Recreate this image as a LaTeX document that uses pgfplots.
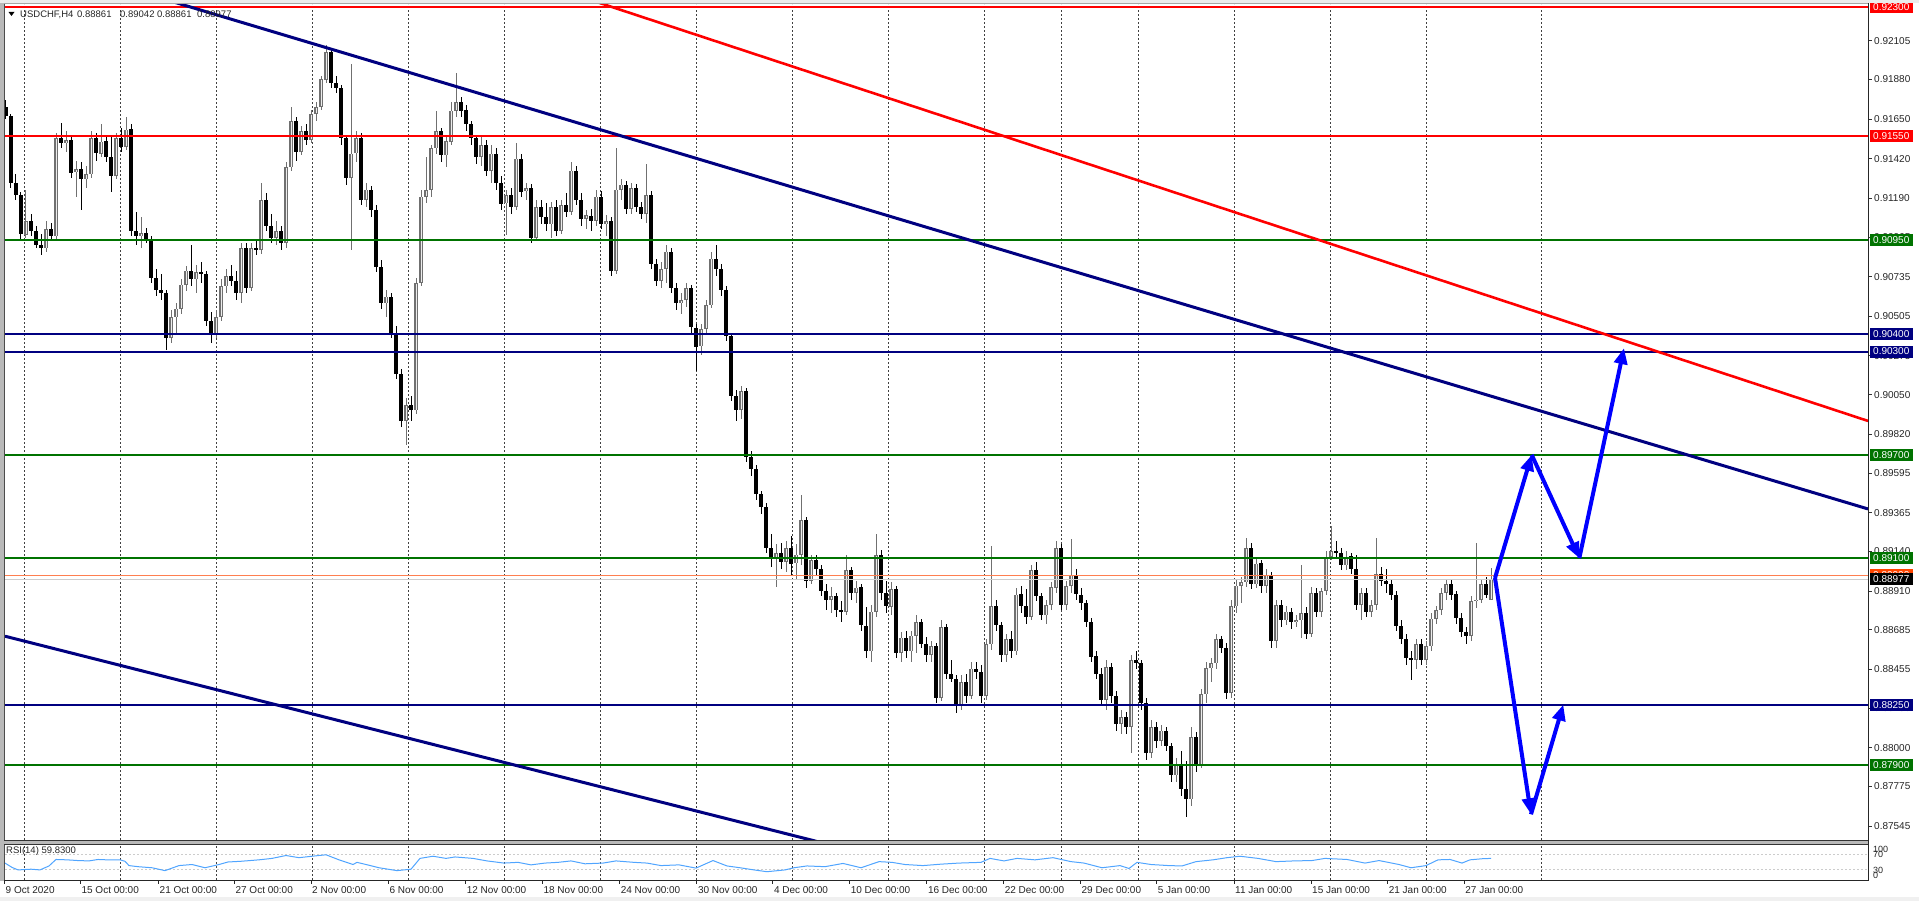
\documentclass[border=0pt]{standalone}
\usepackage{fontspec}
\setmainfont{Liberation Sans}
\newfontfamily\dejavu{DejaVu Sans}
\usepackage{pgfplots}
\pgfplotsset{compat=1.18}
\usepackage{pgfplotstable}
\usetikzlibrary{arrows.meta}

\definecolor{mtred}{RGB}{255,0,0}
\definecolor{mtgreen}{RGB}{0,115,0}
\definecolor{mtnavy}{RGB}{0,0,128}
\definecolor{mtblue}{RGB}{0,0,255}
\definecolor{candlegray}{RGB}{112,112,112}
\definecolor{rsiblue}{RGB}{80,165,255}
\definecolor{coralline}{RGB}{255,127,80}
\definecolor{orangebox}{RGB}{255,69,0}
\definecolor{bidgray}{RGB}{205,205,205}

\pgfplotstableread{
x o h l c
6 0.9172 0.9176 0.9165 0.9167
11 0.9167 0.9168 0.9125 0.9128
16 0.9128 0.9133 0.9118 0.9121
21 0.9121 0.9123 0.9095 0.9098
26 0.9098 0.9124 0.9096 0.9106
31 0.9106 0.9110 0.9097 0.9100
36 0.9100 0.9103 0.9090 0.9092
41 0.9092 0.9098 0.9086 0.9090
46 0.9090 0.9106 0.9088 0.9101
51 0.9101 0.9105 0.9094 0.9097
56 0.9097 0.9157 0.9095 0.9154
61 0.9154 0.9163 0.9148 0.9151
66 0.9151 0.9158 0.9146 0.9153
71 0.9153 0.9155 0.9131 0.9134
76 0.9134 0.9141 0.9120 0.9136
81 0.9136 0.9140 0.9112 0.9130
86 0.9130 0.9138 0.9125 0.9133
91 0.9133 0.9158 0.9131 0.9154
96 0.9154 0.9157 0.9141 0.9145
101 0.9145 0.9162 0.9143 0.9152
106 0.9152 0.9155 0.9140 0.9143
111 0.9143 0.9156 0.9123 0.9132
116 0.9132 0.9157 0.9130 0.9154
121 0.9154 0.9160 0.9146 0.9149
126 0.9149 0.9166 0.9147 0.9159
131 0.9159 0.9162 0.9097 0.9100
136 0.9100 0.9111 0.9092 0.9097
141 0.9097 0.9108 0.9090 0.9099
146 0.9099 0.9102 0.9093 0.9095
151 0.9095 0.9097 0.9070 0.9073
156 0.9073 0.9078 0.9062 0.9066
161 0.9066 0.9075 0.9060 0.9064
166 0.9064 0.9066 0.9031 0.9038
171 0.9038 0.9054 0.9035 0.9050
176 0.9050 0.9058 0.9040 0.9055
181 0.9055 0.9072 0.9052 0.9069
186 0.9069 0.9080 0.9065 0.9077
191 0.9077 0.9092 0.9068 0.9072
196 0.9072 0.9080 0.9064 0.9076
201 0.9076 0.9082 0.9070 0.9075
206 0.9075 0.9077 0.9045 0.9048
211 0.9048 0.9053 0.9035 0.9040
216 0.9040 0.9054 0.9038 0.9050
221 0.9050 0.9072 0.9048 0.9068
226 0.9068 0.9078 0.9064 0.9074
231 0.9074 0.9080 0.9068 0.9071
236 0.9071 0.9077 0.9060 0.9064
241 0.9064 0.9093 0.9058 0.9090
246 0.9090 0.9093 0.9064 0.9067
251 0.9067 0.9093 0.9065 0.9090
256 0.9090 0.9094 0.9086 0.9089
261 0.9089 0.9128 0.9087 0.9118
266 0.9118 0.9122 0.9100 0.9103
271 0.9103 0.9110 0.9093 0.9096
276 0.9096 0.9106 0.9092 0.9100
281 0.9100 0.9103 0.9089 0.9093
286 0.9093 0.9140 0.9090 0.9137
291 0.9137 0.9172 0.9135 0.9164
296 0.9164 0.9166 0.9141 0.9146
301 0.9146 0.9161 0.9144 0.9158
306 0.9158 0.9162 0.9150 0.9153
311 0.9153 0.9170 0.9151 0.9168
316 0.9168 0.9175 0.9164 0.9172
321 0.9172 0.9190 0.9170 0.9188
326 0.9188 0.9208 0.9186 0.9204
331 0.9204 0.9206 0.9183 0.9186
336 0.9186 0.9190 0.9180 0.9183
341 0.9183 0.9185 0.9150 0.9154
346 0.9154 0.9156 0.9127 0.9131
351 0.9131 0.9197 0.9089 0.9145
356 0.9145 0.9158 0.9140 0.9154
361 0.9154 0.9157 0.9115 0.9118
366 0.9118 0.9128 0.9114 0.9124
371 0.9124 0.9126 0.9108 0.9112
376 0.9112 0.9115 0.9076 0.9079
381 0.9079 0.9083 0.9055 0.9058
386 0.9058 0.9066 0.9050 0.9062
391 0.9062 0.9064 0.9038 0.9041
396 0.9041 0.9045 0.9014 0.9017
401 0.9017 0.9020 0.8986 0.8990
406 0.8990 0.9003 0.8976 0.8999
411 0.8999 0.9004 0.8990 0.8996
416 0.8996 0.9073 0.8994 0.9070
421 0.9070 0.9124 0.9068 0.9120
426 0.9120 0.9143 0.9116 0.9124
431 0.9124 0.9150 0.9120 0.9148
436 0.9148 0.9170 0.9145 0.9158
441 0.9158 0.9160 0.9140 0.9144
446 0.9144 0.9156 0.9137 0.9152
451 0.9152 0.9175 0.9150 0.9170
456 0.9170 0.9192 0.9166 0.9175
461 0.9175 0.9178 0.9166 0.9170
466 0.9170 0.9173 0.9158 0.9162
471 0.9162 0.9164 0.9150 0.9154
476 0.9154 0.9156 0.9139 0.9143
481 0.9143 0.9155 0.9138 0.9150
486 0.9150 0.9153 0.9132 0.9135
491 0.9135 0.9150 0.9128 0.9145
496 0.9145 0.9148 0.9124 0.9128
501 0.9128 0.9132 0.9112 0.9116
506 0.9116 0.9124 0.9098 0.9121
511 0.9121 0.9125 0.9110 0.9114
516 0.9114 0.9151 0.9112 0.9142
521 0.9142 0.9145 0.9120 0.9123
526 0.9123 0.9128 0.9118 0.9125
531 0.9125 0.9127 0.9093 0.9096
536 0.9096 0.9118 0.9094 0.9114
541 0.9114 0.9118 0.9104 0.9108
546 0.9108 0.9116 0.9100 0.9104
551 0.9104 0.9117 0.9096 0.9114
556 0.9114 0.9118 0.9097 0.9100
561 0.9100 0.9118 0.9098 0.9115
566 0.9115 0.9122 0.9108 0.9111
571 0.9111 0.9140 0.9109 0.9135
576 0.9135 0.9138 0.9115 0.9118
581 0.9118 0.9122 0.9103 0.9107
586 0.9107 0.9112 0.9101 0.9109
591 0.9109 0.9113 0.9100 0.9106
596 0.9106 0.9124 0.9103 0.9120
601 0.9120 0.9123 0.9101 0.9104
606 0.9104 0.9109 0.9097 0.9106
611 0.9106 0.9108 0.9074 0.9077
616 0.9077 0.9148 0.9075 0.9124
621 0.9124 0.9130 0.9118 0.9127
626 0.9127 0.9129 0.9110 0.9113
631 0.9113 0.9128 0.9110 0.9125
636 0.9125 0.9127 0.9111 0.9114
641 0.9114 0.9117 0.9107 0.9110
646 0.9110 0.9139 0.9105 0.9121
651 0.9121 0.9123 0.9078 0.9081
656 0.9081 0.9084 0.9068 0.9071
661 0.9071 0.9082 0.9067 0.9078
666 0.9078 0.9092 0.9070 0.9088
671 0.9088 0.9090 0.9064 0.9067
676 0.9067 0.9070 0.9054 0.9058
681 0.9058 0.9064 0.9052 0.9060
686 0.9060 0.9070 0.9056 0.9067
691 0.9067 0.9069 0.9041 0.9044
696 0.9044 0.9046 0.9019 0.9033
701 0.9033 0.9046 0.9028 0.9043
706 0.9043 0.9060 0.9040 0.9057
711 0.9057 0.9088 0.9055 0.9084
716 0.9084 0.9092 0.9074 0.9078
721 0.9078 0.9081 0.9062 0.9066
726 0.9066 0.9068 0.9036 0.9039
731 0.9039 0.9041 0.9001 0.9004
736 0.9004 0.9008 0.8990 0.8996
741 0.8996 0.9010 0.8991 0.9007
746 0.9007 0.9009 0.8966 0.8969
751 0.8969 0.8972 0.8958 0.8962
756 0.8962 0.8964 0.8944 0.8947
761 0.8947 0.8949 0.8936 0.8940
766 0.8940 0.8942 0.8913 0.8916
771 0.8916 0.8924 0.8905 0.8910
776 0.8910 0.8918 0.8893 0.8913
781 0.8913 0.8919 0.8904 0.8908
786 0.8908 0.8920 0.8902 0.8916
791 0.8916 0.8923 0.8900 0.8907
796 0.8907 0.8918 0.8898 0.8912
801 0.8912 0.8947 0.8906 0.8932
806 0.8932 0.8934 0.8893 0.8897
811 0.8897 0.8912 0.8895 0.8909
816 0.8909 0.8912 0.8900 0.8904
821 0.8904 0.8906 0.8888 0.8891
826 0.8891 0.8895 0.8880 0.8886
831 0.8886 0.8893 0.8878 0.8888
836 0.8888 0.8890 0.8876 0.8880
841 0.8880 0.8885 0.8873 0.8879
846 0.8879 0.8912 0.8877 0.8903
851 0.8903 0.8905 0.8886 0.8890
856 0.8890 0.8897 0.8884 0.8893
861 0.8893 0.8895 0.8868 0.8871
866 0.8871 0.8882 0.8852 0.8856
871 0.8856 0.8883 0.8850 0.8879
876 0.8879 0.8924 0.8876 0.8912
881 0.8912 0.8915 0.8886 0.8890
886 0.8890 0.8897 0.8878 0.8882
891 0.8882 0.8896 0.8877 0.8892
896 0.8892 0.8894 0.8852 0.8855
901 0.8855 0.8867 0.8850 0.8864
906 0.8864 0.8868 0.8852 0.8856
911 0.8856 0.8868 0.8850 0.8865
916 0.8865 0.8877 0.8855 0.8873
921 0.8873 0.8875 0.8858 0.8860
926 0.8860 0.8864 0.8850 0.8854
931 0.8854 0.8862 0.8850 0.8859
936 0.8859 0.8861 0.8826 0.8829
941 0.8829 0.8874 0.8827 0.8870
946 0.8870 0.8872 0.8840 0.8843
951 0.8843 0.8851 0.8838 0.8840
956 0.8840 0.8842 0.8820 0.8824
961 0.8824 0.8842 0.8822 0.8838
966 0.8838 0.8843 0.8826 0.8830
971 0.8830 0.8850 0.8828 0.8846
976 0.8846 0.8850 0.8840 0.8844
981 0.8844 0.8848 0.8826 0.8830
986 0.8830 0.8863 0.8828 0.8860
991 0.8860 0.8917 0.8857 0.8882
996 0.8882 0.8886 0.8868 0.8871
1001 0.8871 0.8873 0.8850 0.8854
1006 0.8854 0.8866 0.8850 0.8863
1011 0.8863 0.8868 0.8852 0.8856
1016 0.8856 0.8893 0.8854 0.8889
1021 0.8889 0.8894 0.8878 0.8882
1026 0.8882 0.8892 0.8872 0.8876
1031 0.8876 0.8906 0.8874 0.8903
1036 0.8903 0.8908 0.8885 0.8888
1041 0.8888 0.8890 0.8874 0.8877
1046 0.8877 0.8886 0.8872 0.8883
1051 0.8883 0.8896 0.8880 0.8893
1056 0.8893 0.8920 0.8890 0.8916
1061 0.8916 0.8918 0.8880 0.8883
1066 0.8883 0.8897 0.8880 0.8894
1071 0.8894 0.8921 0.8890 0.8900
1076 0.8900 0.8904 0.8886 0.8889
1081 0.8889 0.8893 0.8880 0.8884
1086 0.8884 0.8886 0.8870 0.8873
1091 0.8873 0.8875 0.8850 0.8853
1096 0.8853 0.8856 0.8840 0.8843
1101 0.8843 0.8846 0.8824 0.8828
1106 0.8828 0.8851 0.8822 0.8847
1111 0.8847 0.8849 0.8826 0.8830
1116 0.8830 0.8833 0.8810 0.8814
1121 0.8814 0.8822 0.8808 0.8818
1126 0.8818 0.8821 0.8808 0.8812
1131 0.8812 0.8854 0.8797 0.8851
1136 0.8851 0.8856 0.8846 0.8849
1141 0.8849 0.8851 0.8822 0.8826
1146 0.8826 0.8829 0.8793 0.8797
1151 0.8797 0.8816 0.8794 0.8812
1156 0.8812 0.8815 0.8800 0.8804
1161 0.8804 0.8813 0.8801 0.8810
1166 0.8810 0.8812 0.8798 0.8801
1171 0.8801 0.8803 0.8780 0.8784
1176 0.8784 0.8794 0.8780 0.8790
1181 0.8790 0.8798 0.8772 0.8776
1186 0.8776 0.8792 0.8760 0.8770
1191 0.8770 0.8812 0.8766 0.8806
1196 0.8806 0.8809 0.8786 0.8790
1201 0.8790 0.8834 0.8788 0.8831
1206 0.8831 0.8850 0.8826 0.8846
1211 0.8846 0.8852 0.8838 0.8849
1216 0.8849 0.8866 0.8846 0.8863
1221 0.8863 0.8865 0.8855 0.8858
1226 0.8858 0.8861 0.8828 0.8832
1231 0.8832 0.8886 0.8829 0.8882
1236 0.8882 0.8898 0.8878 0.8894
1241 0.8894 0.8899 0.8884 0.8896
1246 0.8896 0.8922 0.8893 0.8916
1251 0.8916 0.8919 0.8892 0.8895
1256 0.8895 0.8910 0.8893 0.8907
1261 0.8907 0.8909 0.8890 0.8894
1266 0.8894 0.8904 0.8890 0.8900
1271 0.8900 0.8902 0.8858 0.8862
1276 0.8862 0.8886 0.8858 0.8883
1281 0.8883 0.8886 0.8870 0.8874
1286 0.8874 0.8882 0.8871 0.8879
1291 0.8879 0.8881 0.8869 0.8873
1296 0.8873 0.8877 0.8870 0.8874
1301 0.8874 0.8906 0.8864 0.8878
1306 0.8878 0.8882 0.8863 0.8866
1311 0.8866 0.8893 0.8864 0.8890
1316 0.8890 0.8893 0.8876 0.8879
1321 0.8879 0.8893 0.8876 0.8891
1326 0.8891 0.8914 0.8889 0.8911
1331 0.8911 0.8929 0.8909 0.8914
1336 0.8914 0.8920 0.8911 0.8913
1341 0.8913 0.8916 0.8903 0.8906
1346 0.8906 0.8914 0.8903 0.8911
1351 0.8911 0.8913 0.8901 0.8904
1356 0.8904 0.8912 0.8880 0.8883
1361 0.8883 0.8893 0.8874 0.8890
1366 0.8890 0.8893 0.8876 0.8879
1371 0.8879 0.8886 0.8876 0.8883
1376 0.8883 0.8922 0.8880 0.8901
1381 0.8901 0.8905 0.8894 0.8897
1386 0.8897 0.8904 0.8890 0.8895
1391 0.8895 0.8898 0.8886 0.8889
1396 0.8889 0.8891 0.8868 0.8871
1401 0.8871 0.8874 0.8860 0.8863
1406 0.8863 0.8866 0.8848 0.8852
1411 0.8852 0.8856 0.8839 0.8851
1416 0.8851 0.8863 0.8846 0.8860
1421 0.8860 0.8863 0.8848 0.8851
1426 0.8851 0.8862 0.8848 0.8859
1431 0.8859 0.8878 0.8856 0.8875
1436 0.8875 0.8882 0.8872 0.8880
1441 0.8880 0.8893 0.8877 0.8890
1446 0.8890 0.8898 0.8886 0.8895
1451 0.8895 0.8898 0.8886 0.8889
1456 0.8889 0.8891 0.8872 0.8875
1461 0.8875 0.8878 0.8864 0.8867
1466 0.8867 0.8870 0.8860 0.8865
1471 0.8865 0.8888 0.8862 0.8885
1476 0.8885 0.8919 0.8881 0.8886
1481 0.8886 0.8898 0.8884 0.8895
1486 0.8895 0.8899 0.8887 0.8889
1491 0.88861 0.89042 0.88861 0.88977
}\candles

\tikzset{
  plab/.style={anchor=west, inner sep=0pt, font=\fontsize{10}{12}\selectfont, text=black!85},
  pbox/.style={anchor=west, fill=#1, text=white, inner xsep=3.5pt, inner ysep=0pt, minimum height=12pt, font=\fontsize{10}{12}\selectfont},
  dlab/.style={anchor=west, inner sep=0pt, font=\fontsize{10}{12}\selectfont, text=black!85},
}

\begin{document}
\begin{tikzpicture}[x=1pt,y=1pt]
\fill[white] (0,0) rectangle (1919,901);
\path[use as bounding box] (0,0) rectangle (1919,901);

% vertical dashed grid
\foreach \X in {24.6,120.5,216.5,312.5,408.5,504.5,600.4,696.4,792.4,888.4,984.4,1061.6,1138.4,1234.4,1330.4,1426.3,1541.6}
  \draw[black!75, line width=0.8pt, dash pattern=on 2pt off 2pt] (\X,21) -- (\X,897);

% ---------- RSI panel ----------
\begin{axis}[at={(5pt,21pt)}, anchor=south west, scale only axis,
  width=1863pt, height=36pt, xmin=5, xmax=1868, ymin=0, ymax=100,
  hide axis, clip mode=individual]
\addplot[gray!40, line width=0.8pt, dash pattern=on 2pt off 2pt, forget plot] coordinates {(5,70) (1868,70)};
\addplot[gray!40, line width=0.8pt, dash pattern=on 2pt off 2pt, forget plot] coordinates {(5,30) (1868,30)};
\addplot[rsiblue, line width=1pt, forget plot] coordinates {
(5,47) (12,35) (18,28) (31,30) (40,28) (49,39) (56,57) (67,56) (78,54) (89,53) (98,57) (107,56) (120,56) (125,52) (129,40) (138,37) (152,34) (165,26) (179,40) (192,43) (205,34) (219,43) (228,50) (241,52) (259,56) (272,60) (286,68) (299,62) (312,66) (326,70) (339,56) (353,43) (357,49) (366,43) (379,34) (397,26) (411,30) (420,60) (433,66) (446,60) (455,64) (473,60) (487,53) (504,47) (518,49) (531,42) (545,47) (558,49) (571,53) (585,45) (603,47) (616,53) (634,49) (647,47) (661,40) (679,42) (696,33) (713,54) (727,39) (740,34) (754,28) (767,23) (785,28) (794,34) (807,39) (825,37) (843,46) (861,34) (879,51) (892,49) (905,43) (923,40) (941,44) (959,47) (981,49) (990,60) (1004,53) (1017,60) (1035,56) (1053,62) (1071,51) (1084,47) (1102,34) (1120,40) (1129,32) (1137,49) (1151,43) (1169,40) (1182,39) (1196,51) (1213,56) (1227,62) (1240,66) (1258,60) (1276,51) (1294,53) (1312,54) (1325,60) (1347,57) (1365,47) (1379,54) (1399,43) (1411,34) (1426,40) (1438,56) (1450,57) (1462,47) (1470,56) (1482,59) (1491,60)};
\end{axis}

% ---------- main price panel ----------
\begin{axis}[at={(5pt,59pt)}, anchor=south west, scale only axis,
  width=1863pt, height=838pt, xmin=5, xmax=1868, ymin=0.874522, ymax=0.923181,
  hide axis, clip mode=individual]

% bull wicks
\addplot[draw=none, mark=none, forget plot,
  error bars/.cd, y dir=both, y explicit, error mark=none,
  error bar style={draw=candlegray, line width=1pt}]
  table[x=x, y expr={\thisrow{c}>=\thisrow{o} ? (\thisrow{h}+\thisrow{l})/2 : 0.85},
        y error expr={(\thisrow{h}-\thisrow{l})/2}] {\candles};
% bear wicks
\addplot[draw=none, mark=none, forget plot,
  error bars/.cd, y dir=both, y explicit, error mark=none,
  error bar style={draw=black, line width=1pt}]
  table[x=x, y expr={\thisrow{c}<\thisrow{o} ? (\thisrow{h}+\thisrow{l})/2 : 0.85},
        y error expr={(\thisrow{h}-\thisrow{l})/2}] {\candles};
% bull bodies
\addplot[draw=none, mark=none, forget plot,
  error bars/.cd, y dir=both, y explicit, error mark=none,
  error bar style={draw=candlegray, line width=3.2pt}]
  table[x=x, y expr={\thisrow{c}>=\thisrow{o} ? (\thisrow{o}+\thisrow{c})/2 : 0.85},
        y error expr={abs(\thisrow{c}-\thisrow{o})/2}] {\candles};
\addplot[draw=none, mark=none, forget plot,
  error bars/.cd, y dir=both, y explicit, error mark=none,
  error bar style={draw=white!85!gray, line width=0.7pt}]
  table[x=x, y expr={\thisrow{c}>=\thisrow{o} ? (\thisrow{o}+\thisrow{c})/2 : 0.85},
        y error expr={max(abs(\thisrow{c}-\thisrow{o})/2-0.00004,0)}] {\candles};
% bear bodies
\addplot[draw=none, mark=none, forget plot,
  error bars/.cd, y dir=both, y explicit, error mark=none,
  error bar style={draw=black, line width=3.2pt}]
  table[x=x, y expr={\thisrow{c}<\thisrow{o} ? (\thisrow{o}+\thisrow{c})/2 : 0.85},
        y error expr={abs(\thisrow{c}-\thisrow{o})/2}] {\candles};

% horizontal levels
\addplot[mtred, line width=2pt, forget plot] coordinates {(5,0.9230) (1868,0.9230)};
\addplot[mtred, line width=2pt, forget plot] coordinates {(5,0.9155) (1868,0.9155)};
\addplot[mtgreen, line width=2pt, forget plot] coordinates {(5,0.9095) (1868,0.9095)};
\addplot[mtnavy, line width=2pt, forget plot] coordinates {(5,0.9040) (1868,0.9040)};
\addplot[mtnavy, line width=2pt, forget plot] coordinates {(5,0.9030) (1868,0.9030)};
\addplot[mtgreen, line width=2pt, forget plot] coordinates {(5,0.8970) (1868,0.8970)};
\addplot[mtgreen, line width=2pt, forget plot] coordinates {(5,0.8910) (1868,0.8910)};
\addplot[coralline, line width=1pt, forget plot] coordinates {(5,0.8900) (1868,0.8900)};
\addplot[bidgray, line width=1pt, forget plot] coordinates {(5,0.88977) (1868,0.88977)};
\addplot[mtnavy, line width=2pt, forget plot] coordinates {(5,0.8825) (1868,0.8825)};
\addplot[mtgreen, line width=2pt, forget plot] coordinates {(5,0.8790) (1868,0.8790)};

% trend lines
\addplot[mtnavy, line width=3pt, forget plot] coordinates {(170,0.92336) (1868,0.89386)};
\addplot[mtred, line width=2.6pt, forget plot] coordinates {(595,0.92333) (1868,0.89897)};
\addplot[mtnavy, line width=3pt, forget plot] coordinates {(5,0.88647) (830,0.87436)};

% projected path arrows
\addplot[mtblue, line width=4pt, -{Triangle[length=16pt,width=13pt]}, forget plot] coordinates {(1495,0.88985) (1531.7,0.8970)};
\addplot[mtblue, line width=4pt, -{Triangle[length=16pt,width=13pt]}, forget plot] coordinates {(1531.7,0.8970) (1579.3,0.8910)};
\addplot[mtblue, line width=4pt, -{Triangle[length=16pt,width=13pt]}, forget plot] coordinates {(1579.3,0.8910) (1624,0.9032)};
\addplot[mtblue, line width=4pt, -{Triangle[length=16pt,width=13pt]}, forget plot] coordinates {(1495,0.88985) (1531,0.87613)};
\addplot[mtblue, line width=4pt, -{Triangle[length=16pt,width=13pt]}, forget plot] coordinates {(1531,0.87613) (1563.3,0.8825)};

% price scale
\pgfplotsinvokeforeach{0.92105,0.91880,0.91650,0.91420,0.91190,0.90965,0.90735,0.90505,0.90275,0.90050,0.89820,0.89595,0.89365,0.89140,0.88910,0.88685,0.88455,0.88230,0.88000,0.87775,0.87545}{
  \draw[black!80, line width=0.8pt] (1868,#1) -- (1872,#1);
  \node[plab] at (1874,#1) {#1};
}
\node[pbox=mtred] at (1869.5,0.9230) {0.92300};
\node[pbox=mtred] at (1869.5,0.9155) {0.91550};
\node[pbox=mtgreen] at (1869.5,0.9095) {0.90950};
\node[pbox=mtnavy] at (1869.5,0.9040) {0.90400};
\node[pbox=mtnavy] at (1869.5,0.9030) {0.90300};
\node[pbox=mtgreen] at (1869.5,0.8970) {0.89700};
\node[pbox=mtgreen] at (1869.5,0.8910) {0.89100};
\node[pbox=orangebox] at (1869.5,0.8900) {0.89000};
\node[pbox=black] at (1869.5,0.88977) {0.88977};
\node[pbox=mtnavy] at (1869.5,0.8825) {0.88250};
\node[pbox=mtgreen] at (1869.5,0.8790) {0.87900};
\end{axis}

% ---------- frame ----------
\fill[gray!55] (0,20) rectangle (3.5,901);
\draw[black!70, line width=1pt] (4,20) -- (4,897.5);
\fill[gray!15] (0,898) rectangle (1919,901);
\draw[gray!70, line width=0.8pt] (4,897.5) -- (1868.5,897.5);
\fill[gray!55] (4,57) rectangle (1868.5,61);
\draw[black!80, line width=0.8pt] (4,61) -- (1868.5,61);
\draw[black!80, line width=0.8pt] (4,57) -- (1868.5,57);
\draw[black!85, line width=1pt] (1868.5,20.5) -- (1868.5,897.5);
\draw[black!85, line width=1pt] (4,20.5) -- (1868.5,20.5);
\fill[gray!12] (0,0) rectangle (1919,4);

% RSI texts
\node[dlab, font=\fontsize{9.5}{11}\selectfont] at (6,50) {RSI(14) 59.8300};
\node[dlab, font=\fontsize{9}{10}\selectfont] at (1873,52) {100};
\node[dlab, font=\fontsize{9}{10}\selectfont] at (1873,47) {70};
\node[dlab, font=\fontsize{9}{10}\selectfont] at (1873,31) {30};
\node[dlab, font=\fontsize{9}{10}\selectfont] at (1873,26) {0};

% time axis
\foreach \X/\T in {4.5/9 Oct 2020, 80.4/15 Oct 00:00, 158.5/21 Oct 00:00, 234.4/27 Oct 00:00, 311/2 Nov 00:00, 388.4/6 Nov 00:00, 465.6/12 Nov 00:00, 542.4/18 Nov 00:00, 619.6/24 Nov 00:00, 696.8/30 Nov 00:00, 772.8/4 Dec 00:00, 849.6/10 Dec 00:00, 926.8/16 Dec 00:00, 1003.6/22 Dec 00:00, 1080.4/29 Dec 00:00, 1156.7/5 Jan 00:00, 1234/11 Jan 00:00, 1311/15 Jan 00:00, 1387.6/21 Jan 00:00, 1464.2/27 Jan 00:00}{
  \draw[black!85, line width=0.8pt] (\X,20.5) -- (\X,16.5);
  \node[dlab] at (\X+1,10.5) {\T};
}

% title
\fill[black] (8.5,889) -- (14.5,889) -- (11.5,885) -- cycle;
\node[dlab, font=\fontsize{9.5}{11}\selectfont] at (20,886.5) {USDCHF,H4};
\node[dlab, font=\fontsize{9.5}{11}\selectfont] at (77,886.5) {0.88861};
\node[dlab, font=\fontsize{9.5}{11}\selectfont] at (120,886.5) {0.89042};
\node[dlab, font=\fontsize{9.5}{11}\selectfont] at (157,886.5) {0.88861};
\node[dlab, font=\fontsize{9.5}{11}\selectfont] at (197,886.5) {0.88977};
\end{tikzpicture}
\end{document}
